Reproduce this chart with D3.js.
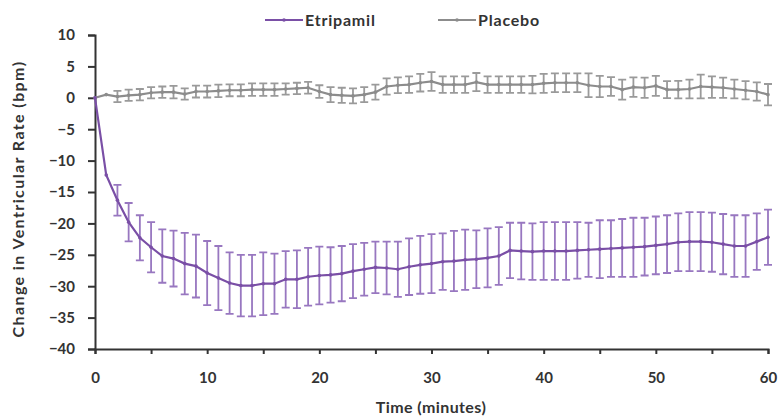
<!DOCTYPE html>
<html>
<head>
<meta charset="utf-8">
<script src="https://cdn.jsdelivr.net/npm/d3@7"></script>
<style>
  body { margin: 0; background: #fff; }
  text { font-family: Lato, "Open Sans", sans-serif; font-weight: bold; }
</style>
</head>
<body>
<script>
// minutes 0..60
var minutes = d3.range(0, 61);

var etripamil = [0, -12.3, -16.3, -19.8, -22.3, -23.8, -25.2, -25.6, -26.4, -26.8,
  -27.9, -28.7, -29.5, -29.9, -29.9, -29.6, -29.6, -28.9, -28.9, -28.5,
  -28.3, -28.2, -28.0, -27.6, -27.3, -27.0, -27.1, -27.3, -26.9, -26.6,
  -26.4, -26.1, -26.0, -25.8, -25.7, -25.5, -25.2, -24.3, -24.4, -24.5,
  -24.4, -24.4, -24.4, -24.3, -24.2, -24.1, -24.0, -23.9, -23.8, -23.7,
  -23.5, -23.3, -23.0, -22.9, -22.9, -23.0, -23.3, -23.6, -23.6, -22.9, -22.2];
var etripamilErr = [0, 0, 2.45, 3.05, 3.6, 4.0, 4.25, 4.45, 4.9, 5.0,
  5.1, 5.1, 4.9, 4.9, 4.9, 5.0, 4.8, 4.5, 4.6, 4.6,
  4.6, 4.4, 4.4, 4.3, 4.2, 4.1, 4.2, 4.4, 4.5, 4.6,
  4.7, 4.5, 4.8, 4.8, 4.6, 4.7, 4.6, 4.4, 4.5, 4.5,
  4.6, 4.6, 4.6, 4.5, 4.3, 4.6, 4.5, 4.6, 4.7, 4.6,
  4.6, 4.6, 4.6, 4.7, 4.7, 4.7, 4.8, 4.9, 4.9, 4.5, 4.4];

var placebo = [0, 0.5, 0.2, 0.4, 0.5, 0.8, 0.9, 0.9, 0.6, 1.0,
  1.0, 1.1, 1.2, 1.2, 1.3, 1.3, 1.3, 1.4, 1.5, 1.6,
  1.0, 0.5, 0.4, 0.3, 0.5, 0.9, 1.8, 2.0, 2.1, 2.4,
  2.6, 2.1, 2.1, 2.1, 2.5, 2.1, 2.1, 2.1, 2.1, 2.1,
  2.3, 2.4, 2.4, 2.4, 2.0, 1.8, 1.8, 1.3, 1.7, 1.6,
  1.9, 1.3, 1.3, 1.4, 1.8, 1.7, 1.6, 1.4, 1.2, 1.0, 0.5];
var placeboErr = [0, 0, 0.9, 0.9, 0.9, 0.9, 0.9, 1.0, 0.9, 0.95,
  0.95, 1.0, 0.95, 0.95, 1.0, 1.0, 1.0, 0.9, 0.9, 0.95,
  1.0, 1.2, 1.2, 1.2, 1.2, 1.2, 1.3, 1.25, 1.3, 1.4,
  1.5, 1.3, 1.3, 1.3, 1.45, 1.3, 1.3, 1.3, 1.3, 1.4,
  1.5, 1.5, 1.5, 1.5, 1.9, 1.7, 1.5, 1.6, 1.55, 1.6,
  1.6, 1.35, 1.4, 1.5, 1.9, 1.7, 1.6, 1.5, 1.45, 1.45, 1.7];

var yTicks = [10, 5, 0, -5, -10, -15, -20, -25, -30, -35, -40];
var xTicks = [0, 5, 10, 15, 20, 25, 30, 35, 40, 45, 50, 55, 60];

var seriesNames = ["Etripamil", "Placebo"];
var seriesColors = ["#7a4fa6", "#8c8c8c"];
var errColors = ["#9877c0", "#9a9a9a"];

var width = 782, height = 418;

var svg = d3.select("body").append("svg")
	.attr("width", width)
	.attr("height", height)
;

var x = d3.scaleLinear().domain([0, 60]).range([95, 768]);
var y = d3.scaleLinear().domain([-40, 10]).range([349, 35]);

// axes
var yAxis = svg.append("g")
	.attr("transform", "translate(95,0)")
	.call(d3.axisLeft(y).tickValues(yTicks).tickSize(7).tickPadding(13))
;
var xAxis = svg.append("g")
	.attr("transform", "translate(0,349)")
	.call(d3.axisBottom(x).tickValues(xTicks).tickSize(5).tickPadding(18)
		.tickFormat(function(d) { return d % 10 === 0 ? d : ""; }))
;
[yAxis, xAxis].forEach(function(g) {
	g.select(".domain").attr("stroke", "#333").attr("stroke-width", 2);
	g.selectAll(".tick line").attr("stroke", "#333").attr("stroke-width", 2);
	g.selectAll(".tick text")
		.attr("fill", "#333")
		.attr("font-size", 15)
		.attr("font-family", "Lato")
		.attr("font-weight", "bold");
});

svg.append("text")
	.attr("transform", "translate(24,199)rotate(-90)")
	.attr("text-anchor", "middle")
	.attr("font-size", 16)
	.attr("letter-spacing", 1.4)
	.attr("fill", "#333")
	.text("Change in Ventricular Rate (bpm)")
;
svg.append("text")
	.attr("x", 431)
	.attr("y", 413)
	.attr("text-anchor", "middle")
	.attr("font-size", 16)
	.attr("letter-spacing", 0.4)
	.attr("fill", "#333")
	.text("Time (minutes)")
;

function drawSeries(vals, errs, i) {
	var pts = minutes.map(function(m, k) { return { m: m, v: vals[k], e: errs[k] }; });
	var g = svg.append("g");

	g.selectAll("path.err")
		.data(pts.filter(function(d) { return d.e > 0; }))
		.enter().append("path")
			.attr("class", "err")
			.attr("d", function(d) {
				var cx = x(d.m), y1 = y(d.v + d.e), y2 = y(d.v - d.e);
				return "M" + (cx - 4) + "," + y1 + "H" + (cx + 4) +
					"M" + cx + "," + y1 + "V" + y2 +
					"M" + (cx - 4) + "," + y2 + "H" + (cx + 4);
			})
			.attr("fill", "none")
			.attr("stroke", errColors[i])
			.attr("stroke-width", 1.8)
	;

	g.append("path")
		.datum(pts)
		.attr("d", d3.line().x(function(d) { return x(d.m); }).y(function(d) { return y(d.v); }))
		.attr("fill", "none")
		.attr("stroke", seriesColors[i])
		.attr("stroke-width", 2.2)
	;

	g.selectAll("circle")
		.data(pts)
		.enter().append("circle")
			.attr("cx", function(d) { return x(d.m); })
			.attr("cy", function(d) { return y(d.v); })
			.attr("r", 1.8)
			.attr("fill", seriesColors[i])
	;
}

drawSeries(placebo, placeboErr, 1);
drawSeries(etripamil, etripamilErr, 0);

// legend
var legendX = [265, 438];
seriesNames.forEach(function(name, i) {
	var lg = svg.append("g").attr("transform", "translate(" + legendX[i] + ",20)");
	lg.append("line")
		.attr("x1", 0).attr("x2", 38).attr("y1", 0).attr("y2", 0)
		.attr("stroke", seriesColors[i]).attr("stroke-width", 2.2);
	lg.append("circle").attr("cx", 19).attr("cy", 0).attr("r", 1.8).attr("fill", seriesColors[i]);
	lg.append("text")
		.attr("x", 40).attr("y", 6)
		.attr("font-size", 16)
		.attr("letter-spacing", 0.8)
		.attr("fill", "#333")
		.text(name);
});
</script>
</body>
</html>
